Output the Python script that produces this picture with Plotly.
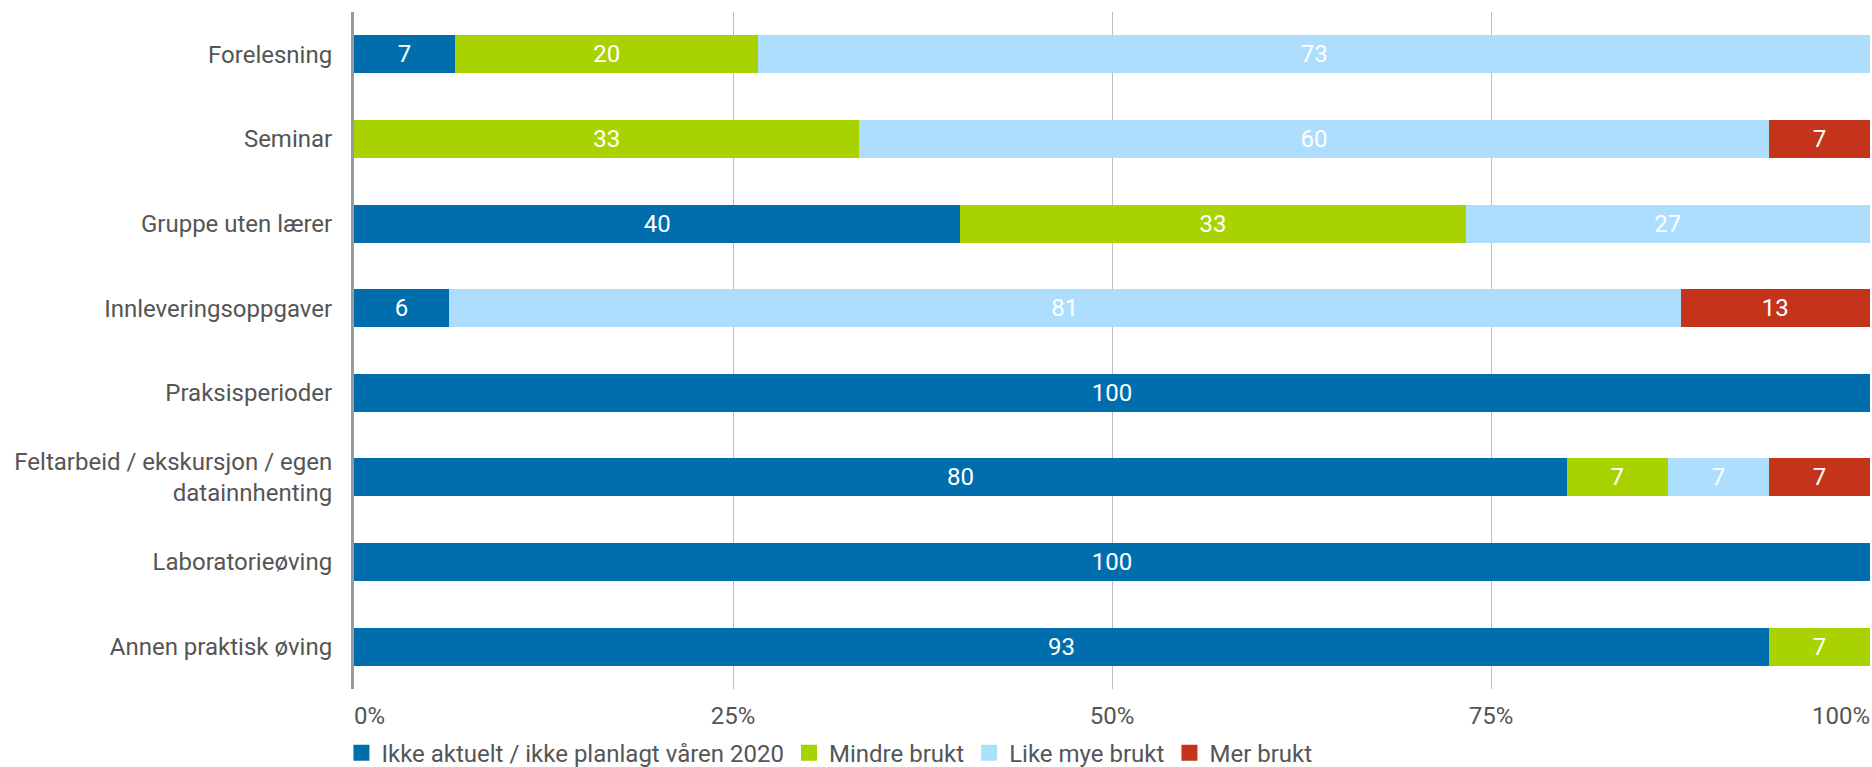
import plotly.graph_objects as go

categories = [
    "Forelesning",
    "Seminar",
    "Gruppe uten lærer",
    "Innleveringsoppgaver",
    "Praksisperioder",
    "Feltarbeid / ekskursjon / egen<br>datainnhenting",
    "Laboratorieøving",
    "Annen praktisk øving",
]

series_names = [
    "Ikke aktuelt / ikke planlagt våren 2020",
    "Mindre brukt",
    "Like mye brukt",
    "Mer brukt",
]

ikke_aktuelt = [6.67, None, 40.0, 6.25, 100.0, 80.0, 100.0, 93.33]
mindre_brukt = [20.0, 33.33, 33.33, None, None, 6.67, None, 6.67]
like_mye_brukt = [73.33, 60.0, 26.67, 81.25, None, 6.67, None, None]
mer_brukt = [None, 6.67, None, 12.5, None, 6.67, None, None]

colors = ["#006EAD", "#A9D300", "#AEDEFD", "#C4341A"]

tick_vals = [0, 25, 50, 75, 100]
tick_labels = ["0%", "25%", "50%", "75%", "100%"]

FONT = "Roboto"
FS = 24
TXT = "#555555"

fig = go.Figure()
for name, vals, col in zip(series_names,
                           [ikke_aktuelt, mindre_brukt, like_mye_brukt, mer_brukt],
                           colors):
    fig.add_trace(go.Bar(
        y=categories, x=vals, orientation="h", name=name,
        marker=dict(color=col, line=dict(width=0)),
        texttemplate="%{x:.0f}", textposition="inside",
        insidetextanchor="middle", textangle=0,
        textfont=dict(family=FONT, size=FS, color="white"),
        showlegend=False, legendgroup=name, hoverinfo="skip",
    ))
    fig.add_trace(go.Scatter(
        x=[None], y=[None], mode="markers", name=name, legendgroup=name,
        marker=dict(symbol="square", size=16, color=col),
        showlegend=True,
    ))

# empty helper traces so the overlaid edge-label axes are drawn
for ax in ["x2", "x3"]:
    fig.add_trace(go.Scatter(x=[None], y=[None], xaxis=ax, yaxis="y",
                             mode="markers", showlegend=False, hoverinfo="skip"))

common_x = dict(range=[0, 100], zeroline=False, showline=False, ticks="",
                automargin=False, ticklabelstandoff=10, fixedrange=True,
                tickfont=dict(family=FONT, size=FS, color=TXT))

fig.update_layout(
    width=1872, height=767, autosize=False,
    barmode="stack", bargap=0.55,
    plot_bgcolor="white", paper_bgcolor="white",
    margin=dict(l=354, r=2, t=12, b=78),
    font=dict(family=FONT, size=FS, color=TXT),
    legend=dict(orientation="h", xref="container", x=0.1824, xanchor="left",
                yref="container", y=0.018, yanchor="middle",
                font=dict(family=FONT, size=FS, color=TXT),
                itemsizing="trace", traceorder="normal"),
    xaxis=dict(**common_x, tickvals=tick_vals[1:4], ticktext=tick_labels[1:4],
               showgrid=True, gridcolor="#BDBDBD", gridwidth=1),
    xaxis2=dict(**common_x, overlaying="x", anchor="y", side="bottom",
                tickvals=tick_vals[:1], ticktext=tick_labels[:1],
                ticklabelposition="outside right", showgrid=False),
    xaxis3=dict(**common_x, overlaying="x", anchor="y", side="bottom",
                tickvals=tick_vals[4:], ticktext=tick_labels[4:],
                ticklabelposition="outside left",
                showgrid=True, gridcolor="#BDBDBD", gridwidth=1),
    yaxis=dict(categoryorder="array", categoryarray=categories, autorange="reversed",
               showgrid=False, zeroline=False, showline=True, automargin=False,
               linecolor="#9A9A9A", linewidth=3, ticks="",
               ticklabelstandoff=14, fixedrange=True),
)

fig.write_html("out.html", config={"displayModeBar": False},
               post_script="document.body.style.margin='0';")
